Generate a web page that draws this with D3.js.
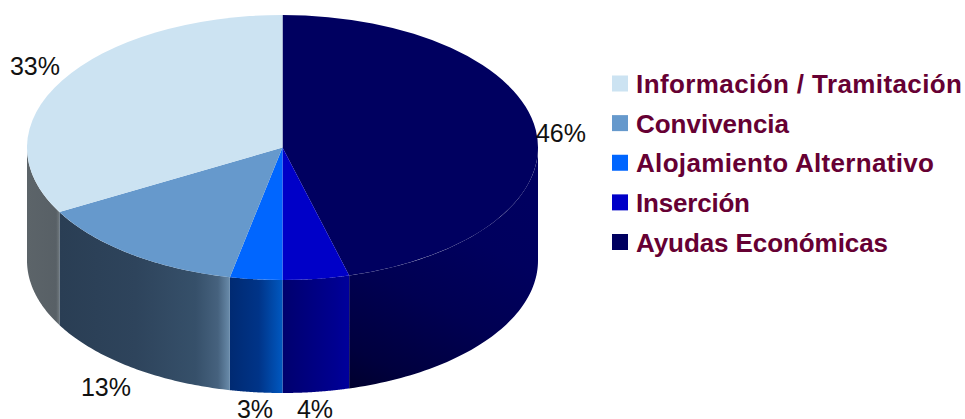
<!DOCTYPE html>
<html><head><meta charset="utf-8">
<script src="https://cdn.jsdelivr.net/npm/d3@7"></script>
<style>html,body{margin:0;padding:0;background:#fff}svg{display:block}</style></head>
<body><svg id="c" width="965" height="419"></svg>
<script>
const categories = ["Ayudas Económicas","Inserción","Alojamiento Alternativo","Convivencia","Información / Tramitación"];
const values = [45.8,4.2,3.3,13.6,33.1];
const percentLabels = ["46%","4%","3%","13%","33%"];
const topColors = ["#000060","#0000c8","#0066ff","#6699cc","#cce3f2"];
const legendOrder = [4,3,2,1,0];
const legendWidths = [252,114,298,153,326];
const sideStops = [
  [[0,"#00002e"],[0.15,"#00003e"],[0.45,"#000052"],[0.75,"#00005e"],[1,"#000060"]],
  [[0,"#00006e"],[0.8,"#000090"],[1,"#00009c"]],
  [[0,"#002a72"],[0.55,"#003488"],[1,"#0058c0"]],
  [[0,"#2a3e54"],[0.45,"#2e445c"],[0.8,"#36506a"],[0.93,"#46627e"],[1,"#6a8cab"]],
  [[0,"#5c6469"],[0.9,"#586066"],[1,"#6f787d"]]
];
const labelPos = [[561,142],[315,418],[255,418],[106,396],[35,75]];

const cx=282.5, cy=147.5, rx=255.5, ry=132.5, depth=113;
const svg=d3.select("#c");
const defs=svg.append("defs");
const pie=d3.pie().sort(null).value(d=>d);
const arcs=pie(values);
const arc=d3.arc().innerRadius(0).outerRadius(rx);
const ex=a=>cx+rx*Math.sin(a), ey=a=>cy-ry*Math.cos(a);

// side walls (visible only for the front half of the ellipse)
arcs.forEach((d,i)=>{
  const a0=Math.max(d.startAngle,Math.PI/2), a1=Math.min(d.endAngle,Math.PI*1.5);
  if(a1<=a0) return;
  const xs=[ex(a0),ex(a1)];
  const g=defs.append("linearGradient").attr("id","s"+i).attr("gradientUnits","userSpaceOnUse");
  if(i===0){
    g.attr("x1",xs[1]).attr("y1",ey(a1)+depth).attr("x2",xs[1]+0.6*(xs[0]-xs[1])).attr("y2",ey(a0)+0.15*depth);
  }else{
    g.attr("x1",Math.min(...xs)).attr("x2",Math.max(...xs)).attr("y1",0).attr("y2",0);
  }
  sideStops[i].forEach(s=>g.append("stop").attr("offset",s[0]).attr("stop-color",s[1]));
  const angs=d3.range(0,61).map(k=>a0+(a1-a0)*k/60);
  const pts=angs.map(a=>[ex(a),ey(a)]).concat(angs.slice().reverse().map(a=>[ex(a),ey(a)+depth]));
  svg.append("path").attr("d",d3.line()(pts)+"Z").attr("fill",`url(#s${i})`);
});
// top face
const topFace=svg.append("g").attr("transform",`translate(${cx},${cy}) scale(1,${ry/rx})`);
topFace.selectAll("path").data(arcs).join("path").attr("d",arc).attr("fill",(d,i)=>topColors[i]);

// percent labels
svg.selectAll("text.pct").data(percentLabels).join("text").attr("class","pct")
  .attr("x",(d,i)=>labelPos[i][0]).attr("y",(d,i)=>labelPos[i][1])
  .attr("text-anchor","middle").attr("font-family","Liberation Sans").attr("font-size",25)
  .attr("fill","#111").text(d=>d);

// legend
const ly=d3.scalePoint().domain(legendOrder).range([83.5,242]);
const lg=svg.selectAll("g.l").data(legendOrder).join("g").attr("class","l")
  .attr("transform",i=>`translate(612,${ly(i)})`);
lg.append("rect").attr("y",-8).attr("width",16).attr("height",16).attr("fill",i=>topColors[i]);
lg.append("text").attr("x",24).attr("y",9.5).attr("font-family","Liberation Sans").attr("font-weight","bold")
  .attr("font-size",26).attr("fill","#660033")
  .attr("textLength",i=>legendWidths[i]).attr("lengthAdjust","spacing").text(i=>categories[i]);
</script></body></html>
